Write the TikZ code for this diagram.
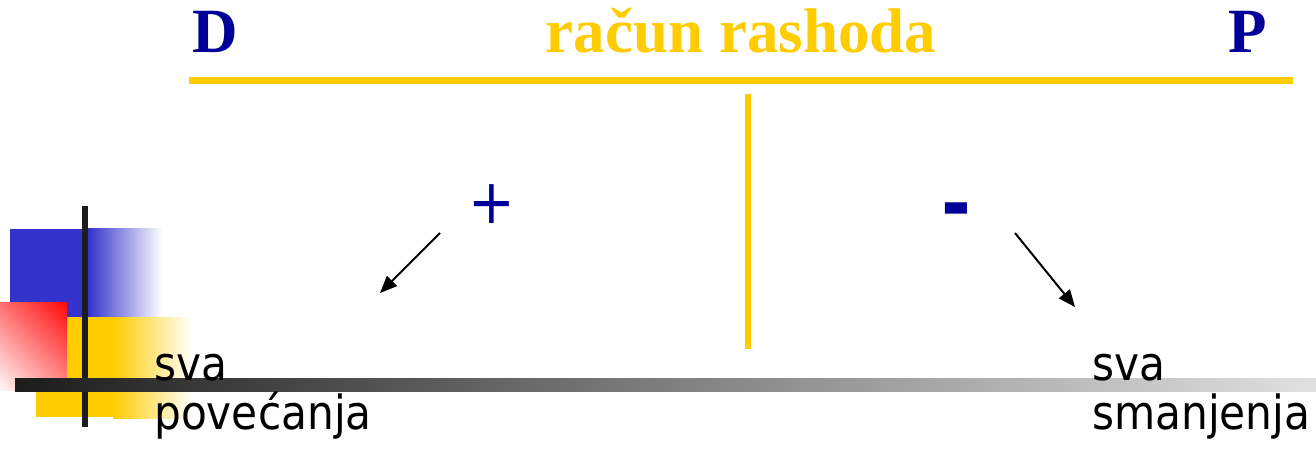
\documentclass[tikz,border=0pt]{standalone}
\usepackage{fontspec}
\setmainfont{Liberation Serif}
\newfontfamily\tah[FakeStretch=0.9]{DejaVu Sans}
\usetikzlibrary{arrows.meta}
\definecolor{dblue}{HTML}{000099}
\definecolor{gold}{HTML}{FFCC00}
\definecolor{sqblue}{HTML}{3333CC}
\definecolor{barblack}{HTML}{1C1C1C}
\tikzset{
  title/.style={font=\fontsize{63}{63}\selectfont\bfseries, inner sep=0pt, anchor=base west},
  body/.style={font=\tah\fontsize{47}{49}\selectfont, inner sep=0pt, anchor=base west, text=black},
  sign/.style={inner sep=0pt, text=dblue},
  pointer/.style={draw=black, line width=2pt, -{Triangle[length=17pt,width=14pt]}},
}
\begin{document}
\begin{tikzpicture}[x=1pt,y=-1pt]
\useasboundingbox (0,0) rectangle (1316,450);
% decoration squares
\fill[sqblue] (10,229) rectangle (89,317);
\shade[left color=sqblue, right color=white] (88,228) rectangle (162,317);
\fill[gold] (36,317) rectangle (114,417);
\shade[left color=gold, right color=white] (113,317) rectangle (192,418);
\begin{scope}
\clip (0,302) rectangle (67,390);
\shade[top color=red, bottom color=white, shading angle=-45] (-20,282) rectangle (87,410);
\end{scope}
\fill[barblack] (82,206) rectangle (88,427);
\shade[left color=barblack, right color=black!12] (15,378) rectangle (1316,391);
% T-account
\fill[gold] (189,77) rectangle (1293,84);
\fill[gold] (745,94) rectangle (751,349);
\node[title, text=dblue] (D) at (192,52) {D};
\node[title, text=gold, anchor=base] (title) at (741,52) {račun rashoda};
\node[title, text=dblue] (P) at (1228,52) {P};
\node[sign, font=\tah\fontsize{62}{62}\selectfont] (plus) at (492,204) {+};
\node[sign, font=\tah\bfseries\fontsize{80}{80}\selectfont] (minus) at (956,217) {-};
\coordinate (a1s) at (440,233);
\coordinate (a1e) at (380,293);
\coordinate (a2s) at (1015,233);
\coordinate (a2e) at (1075,307);
\draw[pointer] (a1s) -- (a1e);
\draw[pointer] (a2s) -- (a2e);
\node[body] (sva1) at (154,380) {sva};
\node[body] (pov) at (154,429) {povećanja};
\node[body] (sva2) at (1092,380) {sva};
\node[body] (sma) at (1092,429) {smanjenja};
\end{tikzpicture}
\end{document}
